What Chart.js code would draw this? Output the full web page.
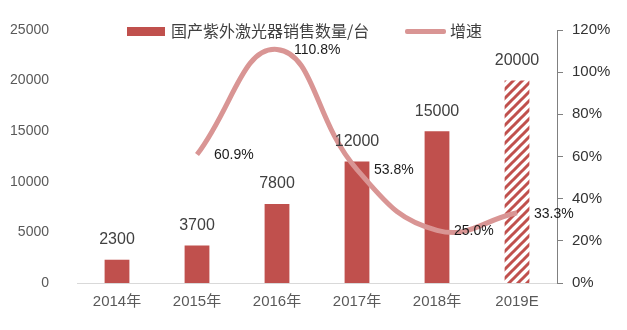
<!DOCTYPE html>
<html>
<head>
<meta charset="utf-8">
<script src="https://cdn.jsdelivr.net/npm/chart.js@4/dist/chart.umd.min.js"></script>
<style>
  body { margin: 0; background: #fff; }
  #wrap { position: relative; width: 627px; height: 330px; }
  .lg { position: absolute; font: 16px "Noto Sans CJK SC", sans-serif; color: #404040; line-height: 20px; }
</style>
</head>
<body>
<div id="wrap">
  <canvas id="c" width="627" height="330"></canvas>
  <div style="position:absolute;left:127px;top:27px;width:38px;height:9px;background:#c0504d"></div>
  <div class="lg" style="left:171px;top:20px">国产紫外激光器销售数量/台</div>
  <div style="position:absolute;left:405px;top:29px;width:41px;height:5px;background:#d99594;border-radius:2px"></div>
  <div class="lg" style="left:450px;top:20px">增速</div>
</div>
<script>
const years = ['2014年', '2015年', '2016年', '2017年', '2018年', '2019E'];
const sales = [2300, 3700, 7800, 12000, 15000, 20000];
const growth = [null, 60.9, 110.8, 53.8, 25.0, 33.3];
const salesTicks = [0, 5000, 10000, 15000, 20000, 25000];
const growthTicks = [0, 20, 40, 60, 80, 100, 120];

const red = '#c0504d';
const pink = '#d99594';

function hatch() {
  const c = document.createElement('canvas');
  c.width = 9; c.height = 9;
  const g = c.getContext('2d');
  g.fillStyle = '#fff';
  g.fillRect(0, 0, 9, 9);
  g.strokeStyle = red;
  g.lineWidth = 3;
  g.beginPath();
  g.moveTo(-1, 10); g.lineTo(10, -1);
  g.moveTo(-5, 5); g.lineTo(5, -5);
  g.moveTo(4, 14); g.lineTo(14, 4);
  g.stroke();
  return g.createPattern(c, 'repeat');
}

const ctx = document.getElementById('c').getContext('2d');
const barColors = sales.map((v, i) => i === sales.length - 1 ? hatch() : red);

// value labels above bars and beside the growth line
const labelPlugin = {
  id: 'vals',
  afterDatasetsDraw(chart) {
    const g = chart.ctx;
    g.save();
    g.font = '16px "Liberation Sans", sans-serif';
    g.fillStyle = '#404040';
    g.textAlign = 'center';
    g.textBaseline = 'middle';
    chart.getDatasetMeta(1).data.forEach((el, i) => {
      g.fillText(String(sales[i]), el.x, el.y - 20);
    });
    g.font = '14px "Liberation Sans", sans-serif';
    g.fillStyle = '#1a1a1a';
    g.textAlign = 'left';
    chart.getDatasetMeta(0).data.forEach((el, i) => {
      if (growth[i] == null) return;
      g.fillText(growth[i].toFixed(1) + '%', el.x + 17, el.y + 1);
    });
    g.restore();
  }
};

new Chart(ctx, {
  data: {
    labels: years,
    datasets: [
      {
        type: 'line',
        label: '增速',
        data: growth,
        yAxisID: 'y1',
        borderColor: pink,
        borderWidth: 5,
        pointRadius: 0,
        tension: 0.45,
        order: 0
      },
      {
        type: 'bar',
        label: '国产紫外激光器销售数量/台',
        data: sales,
        yAxisID: 'y',
        backgroundColor: barColors,
        barPercentage: 0.62,
        categoryPercentage: 0.5,
        order: 1
      }
    ]
  },
  options: {
    responsive: false,
    animation: false,
    layout: { padding: { top: 30, left: 0, right: 0, bottom: 0 } },
    plugins: { legend: { display: false }, tooltip: { enabled: false } },
    scales: {
      x: {
        grid: { display: false, drawTicks: false },
        border: { color: '#d9d9d9', width: 1 },
        ticks: { color: '#595959', font: { size: 15, family: '"Liberation Sans", "Noto Sans CJK SC", sans-serif' }, padding: 10 },
        afterFit: s => { s.height = 47; }
      },
      y: {
        position: 'left',
        min: 0, max: 25000,
        afterBuildTicks: s => { s.ticks = salesTicks.map(v => ({ value: v })); },
        grid: { display: false },
        border: { display: false },
        ticks: { color: '#595959', font: { size: 14, family: '"Liberation Sans", sans-serif' }, padding: 20, callback: v => String(v) },
        afterFit: s => { s.width = 77; }
      },
      y1: {
        position: 'right',
        min: 0, max: 120,
        afterBuildTicks: s => { s.ticks = growthTicks.map(v => ({ value: v })); },
        grid: { drawOnChartArea: false, color: '#808080', tickLength: 6 },
        border: { color: '#808080', width: 1 },
        ticks: { color: '#333', font: { size: 15, family: '"Liberation Sans", sans-serif' }, padding: 9, callback: v => v + '%' },
        afterFit: s => { s.width = 70; }
      }
    }
  },
  plugins: [labelPlugin]
});
</script>
</body>
</html>
